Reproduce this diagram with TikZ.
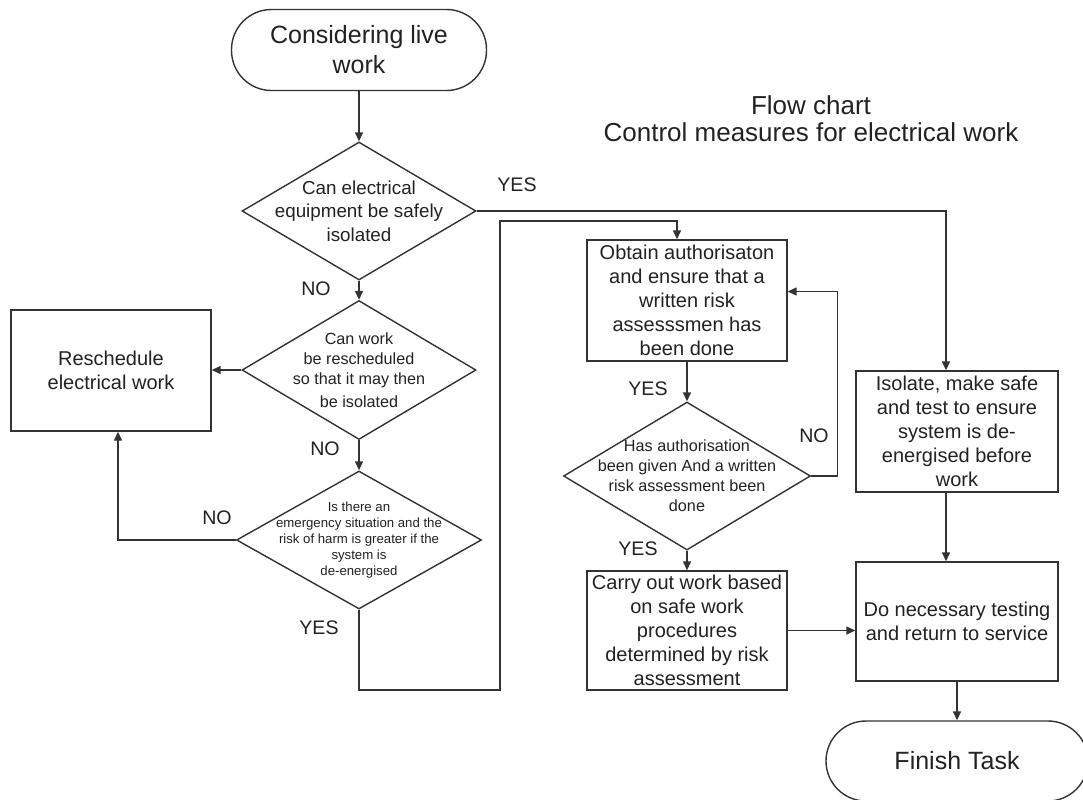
\documentclass[tikz,border=0pt]{standalone}
\usepackage{fontspec}
\setmainfont{Liberation Sans}
\usepackage{tikz}
\usetikzlibrary{positioning,
                calc,
                shapes.geometric,
                arrows.meta}
\definecolor{inkgray}{HTML}{333333}
\definecolor{textgray}{HTML}{222222}

\begin{document}
\begin{tikzpicture}[x=0.5pt,y=-0.5pt]  % <-- one unit per pixel, y runs down

\tikzset{
terminal/.style={
draw=inkgray,
line width=0.7pt,
rounded corners=20pt,
inner sep=0pt,
align=center,
text=textgray,
font=\fontsize{12.5}{15}\selectfont
},
processbox/.style={
draw=inkgray,
line width=0.7pt,
inner sep=0pt,
align=center,
text=textgray,
font=\fontsize{10}{12}\selectfont
},
decisionbox/.style={
diamond,
draw=inkgray,
line width=0.7pt,
inner sep=0pt
},
decisiontext/.style={
align=center,
text=textgray,
inner sep=0pt
},
flowarrow/.style={
draw=inkgray,
line width=0.7pt,
-{Triangle[length=4.5pt,width=4pt]}
},
answerlabel/.style={
text=textgray,
inner sep=0pt,
font=\fontsize{9.8}{11}\selectfont
}
}

\useasboundingbox[fill=white] (0,0) rectangle (1083,799);

%----------------------------------
% TITLE
%----------------------------------

\node[text=textgray,align=center,font=\fontsize{13}{13.5}\selectfont] (title) at (811,119)
{Flow chart\\Control measures for electrical work};

%----------------------------------
% LEFT COLUMN
%----------------------------------

\node[terminal,minimum width=127.5pt,minimum height=40.5pt] (start) at (359,50) {Considering live\\work};

\node[decisionbox,minimum width=117pt,minimum height=69pt,
label={[decisiontext,font=\fontsize{9.4}{11.75}\selectfont]center:Can electrical\\equipment be safely\\isolated}] (q1) at (359,211) {};

\node[decisionbox,minimum width=117pt,minimum height=69.5pt,
label={[decisiontext,font=\fontsize{8.1}{10}\selectfont]center:Can work\\be rescheduled\\so that it may then\\[1.5pt]be isolated}] (q2) at (359,370) {};

\node[decisionbox,minimum width=122.5pt,minimum height=69pt,
label={[decisiontext,font=\fontsize{6.6}{8}\selectfont]center:Is there an\\emergency situation and the\\risk of harm is greater if the\\system is\\de-energised}] (q3) at (359,540) {};

\node[processbox,minimum width=100pt,minimum height=60.5pt] (resched) at (111,370.5) {Reschedule\\electrical work};

%----------------------------------
% MIDDLE COLUMN
%----------------------------------

\node[processbox,minimum width=100pt,minimum height=60.5pt] (obtain) at (687,300.5)
{Obtain authorisaton\\and ensure that a\\written risk\\assesssmen has\\been done};

\node[decisionbox,minimum width=123.5pt,minimum height=74pt,
label={[decisiontext,font=\fontsize{8.1}{10}\selectfont]center:Has authorisation\\been given And a written\\risk assessment been\\done}] (q4) at (687,476) {};

\node[processbox,minimum width=100pt,minimum height=59.5pt] (carry) at (687,630.5)
{Carry out work based\\on safe work\\procedures\\determined by risk\\assessment};

%----------------------------------
% RIGHT COLUMN
%----------------------------------

\node[processbox,minimum width=101pt,minimum height=60.5pt] (isol) at (957,431.5)
{Isolate, make safe\\and test to ensure\\system is de-\\energised before\\work};

\node[processbox,minimum width=101pt,minimum height=59.5pt] (done) at (957,621.5)
{Do necessary testing\\and return to service};

\node[terminal,minimum width=131pt,minimum height=40pt] (finish) at (957,761) {Finish Task};

%----------------------------------
% ANSWERS
%----------------------------------

\node[answerlabel] (yes1) at (517,185) {YES};
\node[answerlabel] (no1) at (316,289) {NO};
\node[answerlabel] (no2) at (325,449) {NO};
\node[answerlabel] (no3) at (217,518) {NO};
\node[answerlabel] (yes3) at (319,628) {YES};
\node[answerlabel] (yes4) at (648,389) {YES};
\node[answerlabel] (no4) at (814,436) {NO};
\node[answerlabel] (yes5) at (638,549) {YES};

%----------------------------------
% CONNECTORS
%----------------------------------

\coordinate (loopbottom) at (500,690);
\coordinate (looptop) at (500,221);

\draw[flowarrow] (start.south) -- (q1.north);
\draw[flowarrow] (q1.east) -| ([xshift=-5.5pt]isol.north);
\draw[flowarrow] (q1.south) -- (q2.north);
\draw[flowarrow] (q2.west) -- (q2.west -| resched.east);
\draw[flowarrow] (q2.south) -- (q3.north);
\draw[flowarrow] (q3.west) -| ([xshift=3.5pt]resched.south);
\draw[flowarrow] (q3.south) |- (loopbottom) -- (looptop) -| ([xshift=-5pt]obtain.north);
\draw[flowarrow] (obtain.south) -- (q4.north);
\draw[flowarrow] (q4.east) -- ++(13pt,0) |- ([yshift=4.5pt]obtain.east);
\draw[flowarrow] (q4.south) -- (carry.north);
\draw[flowarrow] (carry.east) -- (carry.east -| done.west);
\draw[flowarrow] ([xshift=-5.5pt]isol.south) -- ([xshift=-5.5pt]done.north);
\draw[flowarrow] (done.south) -- (finish.north);

\end{tikzpicture}
\end{document}
